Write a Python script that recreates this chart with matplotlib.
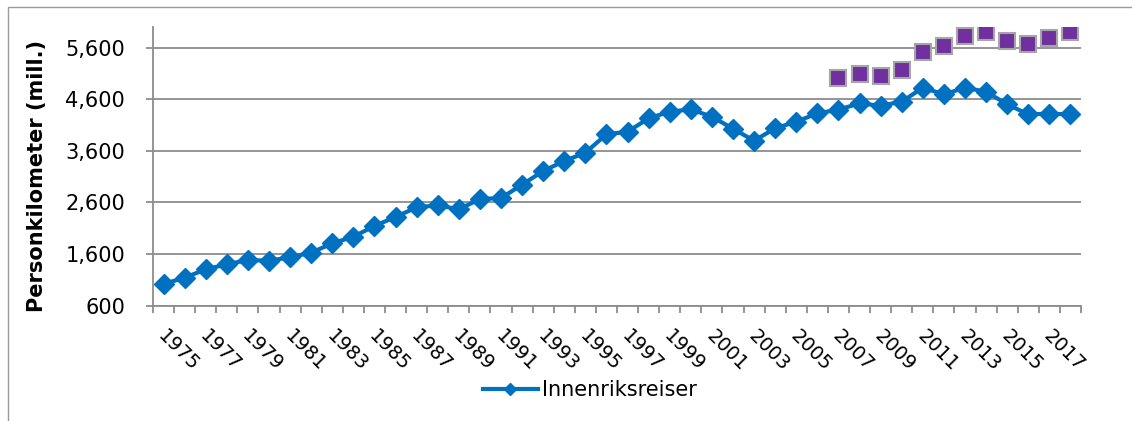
import matplotlib
matplotlib.use("Agg")
import matplotlib.pyplot as plt
from matplotlib.lines import Line2D
from matplotlib.patches import Rectangle
from matplotlib.ticker import FuncFormatter, FixedLocator
import matplotlib.transforms as mtransforms

plt.rcParams['font.family'] = ['DejaVu Sans']

years = list(range(1975, 2019))
innenriks = [1019, 1141, 1303, 1400, 1484, 1470, 1536, 1625, 1807, 1935,
             2143, 2318, 2505, 2544, 2466, 2666, 2685, 2943, 3209, 3402,
             3563, 3920, 3970, 4230, 4358, 4404, 4261, 4028, 3796, 4036,
             4164, 4327, 4397, 4520, 4474, 4552, 4823, 4695, 4823, 4745,
             4501, 4307, 4319, 4307]
total_years = list(range(2007, 2019))
total = [5016, 5093, 5047, 5166, 5521, 5637, 5831, 5896, 5728, 5676, 5792, 5896]
yticks = [600, 1600, 2600, 3600, 4600, 5600]
series_label = "Innenriksreiser"
ylabel = "Personkilometer (mill.)"

blue = "#0070C0"
purple = "#7030A0"
gray = "#8C8C8C"

W, H = 1132, 421
fig = plt.figure(figsize=(W / 100, H / 100), dpi=100)

# outer chart border
fig.patches.append(Rectangle((8 / W, -0.1), 1.2, 1 - 7 / H + 0.1,
                             transform=fig.transFigure, fill=False,
                             edgecolor="#9A9A9A", linewidth=1.0))

ax = fig.add_axes([153 / W, 1 - 305.6 / H, (1081 - 153) / W, (305.6 - 27) / H])

x = list(range(len(years)))
x_total = [years.index(y) for y in total_years]

ax.plot(x, innenriks, color=blue, linewidth=3.0, marker="D", markersize=9.8,
        markeredgewidth=1.0, markeredgecolor=blue, zorder=3)
ax.plot(x_total, total, linestyle="none", marker="s", markersize=12,
        markerfacecolor=purple, markeredgecolor="#A6A6A6", markeredgewidth=1.5,
        zorder=4)

ax.set_xlim(-0.5, len(years) - 0.5)
ax.set_ylim(600, 6000)

for s in ["top", "right"]:
    ax.spines[s].set_visible(False)
for s in ["left", "bottom"]:
    ax.spines[s].set_color(gray)
    ax.spines[s].set_linewidth(1.3)

ax.set_yticks(yticks)
ax.yaxis.set_major_formatter(FuncFormatter(lambda v, p: f"{int(v):,}"))
ax.tick_params(axis="y", length=5, width=1.3, color=gray, pad=15, labelsize=15)
ax.grid(axis="y", color=gray, linewidth=1.3, zorder=0)
ax.set_axisbelow(True)

# category boundaries as major ticks, labels on minor ticks
ax.xaxis.set_major_locator(FixedLocator([i - 0.5 for i in range(len(years) + 1)]))
ax.xaxis.set_major_formatter(FuncFormatter(lambda v, p: ""))
ax.tick_params(axis="x", which="major", length=5, width=1.3, color=gray)
lab_pos = list(range(0, len(years), 2))
ax.xaxis.set_minor_locator(FixedLocator(lab_pos))
ax.set_xticklabels([str(years[i]) for i in lab_pos], minor=True)
ax.tick_params(axis="x", which="minor", length=0, pad=15, labelsize=14)
offset = mtransforms.ScaledTranslation(4 / 100, 0, fig.dpi_scale_trans)
for lbl in ax.xaxis.get_minorticklabels():
    lbl.set_rotation(-45)
    lbl.set_ha("left")
    lbl.set_va("top")
    lbl.set_rotation_mode("anchor")
    lbl.set_transform(lbl.get_transform() + offset)

fig.text(37 / W, 1 - 176 / H, ylabel, rotation=90, ha="center", va="center",
         fontsize=15, fontweight="bold")

handle = Line2D([], [], color=blue, linewidth=3.0, marker="D", markersize=6,
                markeredgecolor=blue)
fig.legend([handle], [series_label], loc="center", frameon=False,
           bbox_to_anchor=(590 / W, 1 - 390 / H), fontsize=15,
           handlelength=2.6, handletextpad=0.2)

fig.savefig("out.png", dpi=100)
